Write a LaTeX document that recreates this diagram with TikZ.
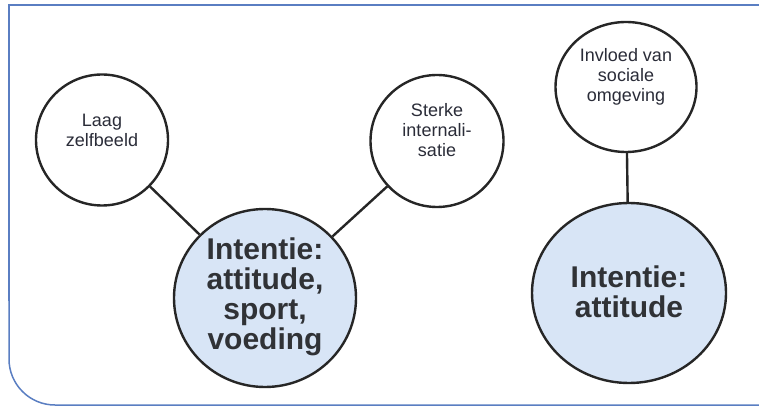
\documentclass[tikz,border=0pt]{standalone}
\usepackage{fontspec}
\setmainfont{Liberation Sans}
\usetikzlibrary{shapes.geometric}
\definecolor{framecol}{HTML}{5A7EC2}
\definecolor{bigfill}{HTML}{D8E5F6}
\definecolor{smalltxt}{HTML}{2A2C38}
\definecolor{bigtxt}{HTML}{303236}
\tikzset{
  smallc/.style={ellipse, draw=black!85, line width=2.4pt, fill=white, inner sep=0pt},
  bigc/.style={ellipse, draw=black!85, line width=2.4pt, fill=bigfill, inner sep=0pt},
  smalltext/.style={text=smalltxt, align=center, font=\fontsize{18}{20}\selectfont},
  bigtext/.style={text=bigtxt, align=center, font=\fontsize{30}{30}\selectfont\bfseries},
  link/.style={draw=black!85, line width=2.4pt},
  frame/.style={draw=framecol, line width=1.5pt}
}
\begin{document}
\begin{tikzpicture}[x=1pt,y=-1pt]
\useasboundingbox (0,0) rectangle (759,411);
\fill[white] (0,0) rectangle (759,411);
\begin{scope}
\clip (0,0) rectangle (759,411);
\draw[frame] (780,5) -- (9,5) -- (9,301);
\draw[frame, rounded corners=46pt] (9,300) -- (9,405) -- (780,405);
\end{scope}
% circles
\node[smallc, minimum width=132pt, minimum height=131pt] (laag) at (102,140) {};
\node[smallc, minimum width=133pt, minimum height=132pt] (sterke) at (437,141) {};
\node[smallc, minimum width=141pt, minimum height=130pt] (invloed) at (626,87) {};
\node[bigc, minimum width=182pt, minimum height=178pt] (int1) at (265,298) {};
\node[bigc, minimum width=194pt, minimum height=180pt] (int2) at (629,293) {};
% connectors
\draw[link] (laag) -- (int1);
\draw[link] (sterke) -- (int1);
\draw[link] (invloed) -- (int2);
% texts
\node[smalltext] (tlaag) at (102,130) {Laag\\zelfbeeld};
\node[smalltext] (tsterke) at (437,130) {Sterke\\internali-\\satie};
\node[smalltext] (tinvloed) at (626,77) {Invloed van\\sociale\\omgeving};
\node[bigtext] (tint1) at (265,297) {Intentie:\\attitude,\\sport,\\voeding};
\node[bigtext] (tint2) at (629,292) {Intentie:\\attitude};
\end{tikzpicture}
\end{document}
